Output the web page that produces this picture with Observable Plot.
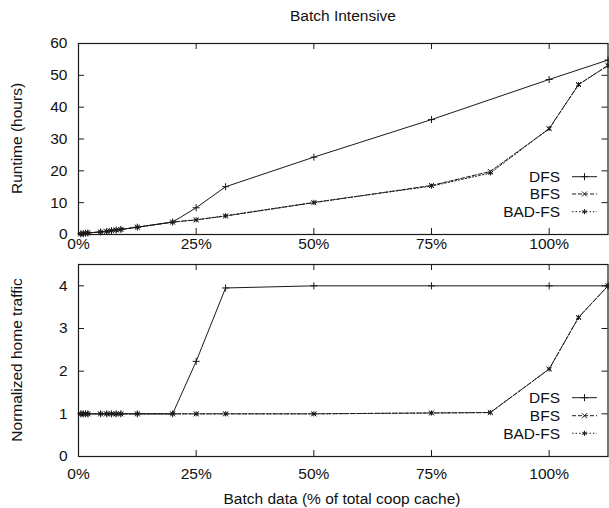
<!DOCTYPE html>
<html>
<head>
<meta charset="utf-8">
<script src="https://cdn.jsdelivr.net/npm/d3@7"></script>
<script src="https://cdn.jsdelivr.net/npm/@observablehq/plot@0.6"></script>
<style>
  html, body { margin: 0; padding: 0; background: #fff; }
  #wrap { position: relative; width: 609px; height: 508px; overflow: hidden; font-family: "Liberation Sans", Arial, sans-serif; }
  #wrap svg { position: absolute; left: 0; }
</style>
</head>
<body>
<div id="wrap"></div>
<script>
// ---- data ----
const title = "Batch Intensive";
const xLabel = "Batch data (% of total coop cache)";
const yLabelTop = "Runtime (hours)";
const yLabelBottom = "Normalized home traffic";
const seriesNames = ["DFS", "BFS", "BAD-FS"];

const xTicks = [0, 25, 50, 75, 100];
const yTicksTop = [0, 10, 20, 30, 40, 50, 60];
const yTicksBottom = [0, 1, 2, 3, 4];

const dfsX       = [0.5, 1, 1.5, 2, 4.7, 6, 7, 8, 9, 12.5, 20, 25, 31.25, 50, 75, 100, 112.5];
const dfsRuntime = [0.2, 0.3, 0.4, 0.5, 0.8, 1.0, 1.2, 1.4, 1.6, 2.3, 3.9, 8.4, 15.0, 24.3, 36.1, 48.7, 54.8];
const dfsTraffic = [1, 1, 1, 1, 1, 1, 1, 1, 1, 1, 1, 2.23, 3.95, 4.0, 4.0, 4.0, 4.0];

const bfsX          = [0.5, 1, 1.5, 2, 4.7, 6, 7, 8, 9, 12.5, 20, 25, 31.25, 50, 75, 87.5, 100, 106.25, 112.5];
const bfsRuntime    = [0.2, 0.3, 0.4, 0.5, 0.8, 1.0, 1.2, 1.4, 1.6, 2.3, 3.9, 4.6, 5.8, 10.0, 15.4, 19.8, 33.2, 47.1, 53.1];
const badfsRuntime  = [0.2, 0.3, 0.4, 0.5, 0.8, 1.0, 1.2, 1.4, 1.6, 2.3, 3.9, 4.6, 5.9, 10.1, 15.2, 19.3, 33.3, 47.1, 53.1];
const bfsTraffic    = [1, 1, 1, 1, 1, 1, 1, 1, 1, 1, 1, 1, 1, 1.0, 1.02, 1.03, 2.05, 3.26, 4.0];
const badfsTraffic  = [1, 1, 1, 1, 1, 1, 1, 1, 1, 1, 1, 1, 1, 1.0, 1.02, 1.03, 2.05, 3.26, 4.0];

// ---- styles ----
const styles = {
  "DFS":    {dash: null,    symbol: "plus",     d3sym: d3.symbolPlus},
  "BFS":    {dash: "4,2",   symbol: "times",    d3sym: d3.symbolTimes},
  "BAD-FS": {dash: "1.5,2", symbol: "asterisk", d3sym: d3.symbolAsterisk}
};

function rows(xs, ys) { return xs.map((x, i) => ({x, y: ys[i]})); }

const topSeries = [
  ["DFS", rows(dfsX, dfsRuntime)],
  ["BFS", rows(bfsX, bfsRuntime)],
  ["BAD-FS", rows(bfsX, badfsRuntime)]
];
const bottomSeries = [
  ["DFS", rows(dfsX, dfsTraffic)],
  ["BFS", rows(bfsX, bfsTraffic)],
  ["BAD-FS", rows(bfsX, badfsTraffic)]
];

const FONT = "Liberation Sans, Arial, sans-serif";
const FS = 15.5;
const W = 609;
const mL = 78, mR = 1.5;
const tick = 6;
const R = 2.4;
const INK = "#1a1a1a";

function panel({height, mT, mB, yDomain, yTicks, series, xPad}) {
  const fw = W - mL - mR;
  const fh = height - mT - mB;
  const marks = [
    Plot.ruleX(xTicks, {stroke: INK, insetTop: fh - tick}),
    Plot.ruleX(xTicks, {stroke: INK, insetBottom: fh - tick}),
    Plot.ruleY(yTicks, {stroke: INK, insetRight: fw - tick}),
    Plot.ruleY(yTicks, {stroke: INK, insetLeft: fw - tick}),
    Plot.axisX({ticks: xTicks, tickSize: 0, tickPadding: xPad, tickFormat: d => d + "%", label: null}),
    Plot.axisY({ticks: yTicks, tickSize: 0, tickPadding: 11, tickFormat: d => String(d), label: null}),
  ];
  for (const [name, data] of series) {
    const s = styles[name];
    marks.push(Plot.line(data, {x: "x", y: "y", stroke: INK, strokeWidth: 1, strokeDasharray: s.dash}));
    marks.push(Plot.dot(data, {x: "x", y: "y", symbol: s.symbol, r: R, stroke: INK, strokeWidth: 1, fill: "none"}));
  }
  marks.push(Plot.frame({stroke: INK, strokeWidth: 1.2}));
  return Plot.plot({
    width: W, height,
    marginTop: mT, marginBottom: mB, marginLeft: mL, marginRight: mR,
    x: {domain: [0, 112.5]},
    y: {domain: yDomain},
    style: {fontFamily: FONT, fontSize: FS + "px", color: "#111", background: "white", overflow: "visible"},
    marks
  });
}

function legend(svg, yCenters) {
  const g = d3.select(svg).append("g");
  seriesNames.forEach((name, i) => {
    const s = styles[name];
    const y = yCenters[i];
    g.append("text").attr("x", 560).attr("y", y).attr("dy", "0.35em")
      .attr("text-anchor", "end").attr("font-family", FONT).attr("font-size", FS).attr("fill", "#111").text(name);
    g.append("line").attr("x1", 572).attr("x2", 597).attr("y1", y).attr("y2", y)
      .attr("stroke", INK).attr("stroke-width", 1).attr("stroke-dasharray", s.dash);
    g.append("path").attr("d", d3.symbol(s.d3sym, Math.PI * R * R)())
      .attr("transform", `translate(584.5,${y})`).attr("fill", "none").attr("stroke", INK).attr("stroke-width", 1);
  });
}

function addText(svg, x, y, txt, rotate) {
  const t = d3.select(svg).append("text")
    .attr("font-family", FONT).attr("font-size", FS).attr("fill", "#111")
    .attr("text-anchor", "middle").attr("dy", "0.35em").text(txt);
  if (rotate) t.attr("transform", `translate(${x},${y}) rotate(-90)`);
  else t.attr("x", x).attr("y", y);
}

const wrap = document.getElementById("wrap");

const topSvg = panel({height: 252, mT: 43, mB: 18, yDomain: [0, 60], yTicks: yTicksTop, series: topSeries, xPad: 3});
topSvg.style.top = "0px";
wrap.appendChild(topSvg);
legend(topSvg, [176.7, 194, 211.7]);
addText(topSvg, 343, 16, title, false);
addText(topSvg, 17, 138.5, yLabelTop, true);

const botSvg = panel({height: 258, mT: 14, mB: 52, yDomain: [0, 4.5], yTicks: yTicksBottom, series: bottomSeries, xPad: 11});
botSvg.style.top = "250px";
wrap.appendChild(botSvg);
legend(botSvg, [397.7 - 250, 415.7 - 250, 433.3 - 250]);
addText(botSvg, 342, 499 - 250, xLabel, false);
addText(botSvg, 17, 360 - 250, yLabelBottom, true);
</script>
</body>
</html>
